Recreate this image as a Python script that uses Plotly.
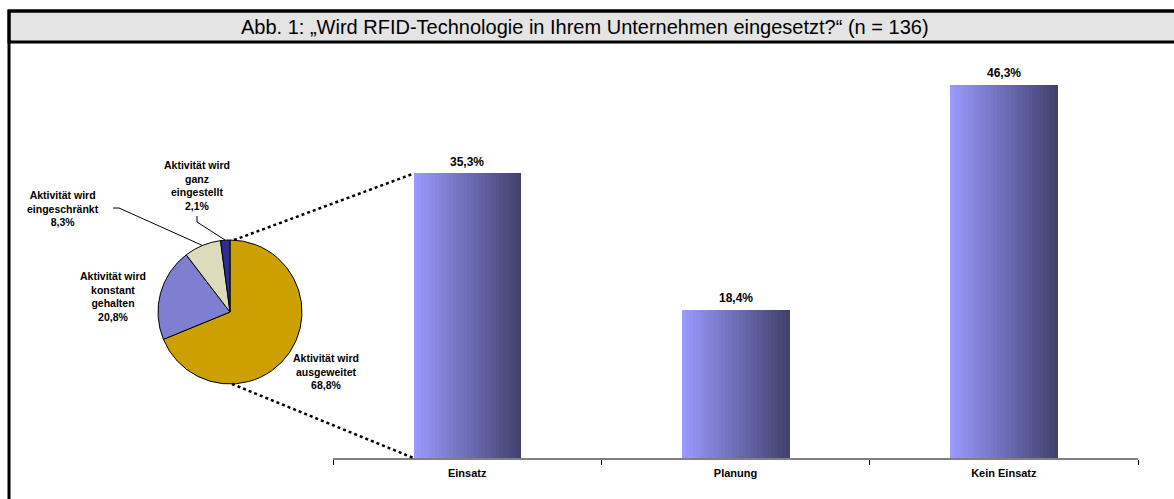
import math
import plotly.graph_objects as go

# Bar chart: use of RFID technology
categories = ["Einsatz", "Planung", "Kein Einsatz"]
shares = [35.3, 18.4, 46.3]

# Pie chart: development of RFID activity among users
pie_labels = [
    "Aktivität wird<br>ausgeweitet",
    "Aktivität wird<br>konstant<br>gehalten",
    "Aktivität wird<br>eingeschränkt",
    "Aktivität wird<br>ganz<br>eingestellt",
]
pie_values = [68.8, 20.8, 8.3, 2.1]
pie_colors = ["#cca000", "#7f7fd2", "#dcdcbc", "#2c2c92"]

title_text = "Abb. 1: „Wird RFID-Technologie in Ihrem Unternehmen eingesetzt?“ (n = 136)"

W, H = 1174, 499
FONT = "Liberation Sans, Arial, sans-serif"


def px(x):
    return x / W


def py(y):
    return 1 - y / H


def pct(v):
    return f"{v:.1f}%".replace(".", ",")


# bar plot area (pixels)
BX0, BX1 = 333, 1138
BY_BOTTOM = 458
Y_MAX = 50.0
UNIT_PX = 8.056
BY_TOP = BY_BOTTOM - Y_MAX * UNIT_PX
BAR_W = 0.4

# pie geometry (pixels)
PCX, PCY, PR = 230, 312, 72

fig = go.Figure()

# bars with a left-to-right colour gradient, built from thin overlaid slices
N = 30
c0 = (153, 153, 255)
c1 = (66, 66, 110)
for k in range(N):
    t = k / (N - 1)
    col = tuple(round(c0[i] + (c1[i] - c0[i]) * t) for i in range(3))
    fig.add_trace(go.Bar(
        x=categories, y=shares,
        width=BAR_W / N * 1.15,
        offset=-BAR_W / 2 + k * BAR_W / N,
        marker=dict(color="rgb(%d,%d,%d)" % col, line=dict(width=0)),
        hoverinfo="skip", showlegend=False,
    ))

# value labels above the bars
for c, v in zip(categories, shares):
    fig.add_annotation(
        x=c, y=v, xref="x", yref="y", text=f"<b>{pct(v)}</b>",
        showarrow=False, xanchor="center", yanchor="bottom", yshift=3,
        font=dict(family=FONT, size=12, color="#000000"),
    )

fig.add_trace(go.Pie(
    labels=pie_labels, values=pie_values, sort=False, direction="clockwise",
    rotation=0, textinfo="none", showlegend=False,
    marker=dict(colors=pie_colors, line=dict(color="#000000", width=1)),
    domain=dict(x=[px(PCX - PR), px(PCX + PR)], y=[py(PCY + PR), py(PCY - PR)]),
))

# slice mid-angles, clockwise from 12 o'clock
mids = []
acc = 0.0
total = sum(pie_values)
for v in pie_values:
    mids.append((acc + v / 2) / total * 2 * math.pi)
    acc += v


def edge(theta, r=PR):
    return PCX + r * math.sin(theta), PCY - r * math.cos(theta)


label_pos = [(326, 371), (113, 296), (63, 208), (197, 186)]
for lab, v, (lx, ly) in zip(pie_labels, pie_values, label_pos):
    fig.add_annotation(
        x=px(lx), y=py(ly), xref="paper", yref="paper",
        xanchor="center", yanchor="middle",
        text=f"<b>{lab}<br>{pct(v)}</b>", showarrow=False,
        font=dict(family=FONT, size=10.5, color="#000000"), align="center",
    )

# leader lines for the two small slices
ex, ey = edge(mids[2])
fig.add_shape(type="path", xref="paper", yref="paper",
              path=f"M {px(113)} {py(208)} L {px(119)} {py(208)} L {px(ex)} {py(ey)}",
              line=dict(color="#000000", width=1))
ex, ey = edge(mids[3])
fig.add_shape(type="path", xref="paper", yref="paper",
              path=f"M {px(197)} {py(216)} L {px(197)} {py(222)} L {px(ex)} {py(ey)}",
              line=dict(color="#000000", width=1))

# dotted connectors from the pie to the "Einsatz" bar
cat_px = (BX1 - BX0) / len(categories)
bar_left = BX0 + cat_px * (0 + 0.5 - BAR_W / 2)
bar_top = BY_BOTTOM - shares[0] * UNIT_PX
tx, ty = edge(0.0)
bx, by = edge(math.pi)
fig.add_shape(type="line", xref="paper", yref="paper",
              x0=px(tx + 4), y0=py(ty), x1=px(bar_left), y1=py(bar_top),
              line=dict(color="#000000", width=2.5, dash="dot"))
fig.add_shape(type="line", xref="paper", yref="paper",
              x0=px(bx + 2), y0=py(by), x1=px(bar_left), y1=py(BY_BOTTOM),
              line=dict(color="#000000", width=2.5, dash="dot"))

# frame and title bar
fig.add_shape(type="rect", xref="paper", yref="paper",
              x0=px(9), y0=py(11), x1=px(1177), y1=py(505),
              line=dict(color="#000000", width=3), fillcolor="rgba(0,0,0,0)", layer="above")
fig.add_shape(type="rect", xref="paper", yref="paper",
              x0=px(9), y0=py(11), x1=px(1177), y1=py(42),
              line=dict(color="#000000", width=3), fillcolor="#e4e4e4", layer="below")
fig.add_annotation(x=px(585), y=py(27), xref="paper", yref="paper",
                   xanchor="center", yanchor="middle",
                   text=title_text, showarrow=False,
                   font=dict(family="Liberation Sans, Arial", size=20, color="#000000"))

fig.update_layout(
    width=W, height=H,
    margin=dict(l=0, r=0, t=0, b=0),
    paper_bgcolor="#ffffff", plot_bgcolor="rgba(0,0,0,0)",
    barmode="overlay", bargap=0,
    xaxis=dict(
        domain=[px(BX0), px(BX1)], range=[-0.5, 2.5], type="category",
        showline=True, linecolor="#808080", linewidth=2,
        ticks="outside", tickson="boundaries", ticklen=5, tickcolor="#000000", tickwidth=1,
        ticklabelstandoff=4,
        showgrid=False, zeroline=False,
        tickfont=dict(family=FONT, size=11, color="#000000"),
        ticktext=[f"<b>{c}</b>" for c in categories], tickvals=categories,
        fixedrange=True,
    ),
    yaxis=dict(
        domain=[py(BY_BOTTOM), py(BY_TOP)], range=[0, Y_MAX],
        visible=False, showgrid=False, zeroline=False, fixedrange=True,
    ),
)

fig.write_html("out.html")
